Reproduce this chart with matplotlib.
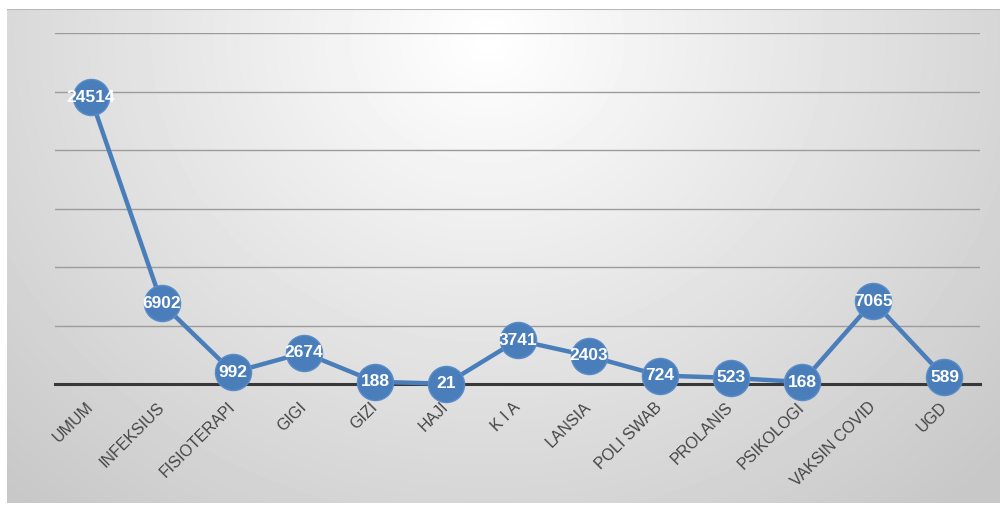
import numpy as np
import matplotlib.pyplot as plt

poli = ['UMUM', 'INFEKSIUS', 'FISIOTERAPI', 'GIGI', 'GIZI', 'HAJI', 'K I A',
        'LANSIA', 'POLI SWAB', 'PROLANIS', 'PSIKOLOGI', 'VAKSIN COVID', 'UGD']
kunjungan = [24514, 6902, 992, 2674, 188, 21, 3741, 2403, 724, 523, 168, 7065, 589]

W, H = 1000, 505
fig = plt.figure(figsize=(W / 100, H / 100), dpi=100)
fig.patch.set_facecolor('white')

# grey radial background of the chart box
bg = fig.add_axes([7 / W, 2 / H, 993 / W, (H - 9 - 2) / H])
gy, gx = np.mgrid[0:494, 0:993]
r = np.sqrt(((gx - 480) / 600.0) ** 2 + ((gy - 30) / 540.0) ** 2)
shade = np.clip(255 - 48 * r, 200, 255) / 255.0
bg.imshow(shade, cmap='gray', vmin=0, vmax=1, aspect='auto',
          extent=[0, 1, 0, 1], interpolation='bilinear')
bg.axhline(1, color='#b8b8b8', lw=1.5)
bg.set_xlim(0, 1)
bg.set_ylim(0, 1)
bg.axis('off')

ax = fig.add_axes([55 / W, (H - 384) / H, 925 / W, (384 - 33) / H])
ax.patch.set_alpha(0)

x = np.arange(len(poli))
ax.plot(x, kunjungan, color='#4a7ebb', lw=3.2, marker='o', markersize=26,
        markerfacecolor='#4a7ebb', markeredgecolor='#5a8cc8', markeredgewidth=1,
        clip_on=False, zorder=3)

for xi, v in zip(x, kunjungan):
    ax.text(xi, v, str(v), ha='center', va='center', color='white',
            fontsize=12.5, fontweight='bold', family=['Liberation Sans', 'DejaVu Sans'],
            zorder=4, clip_on=False)

ax.set_xlim(-0.5, len(poli) - 0.5)
ax.set_ylim(0, 30000)
ax.set_yticks(np.arange(5000, 30001, 5000))
ax.yaxis.grid(True, color='#9c9c9c', lw=1)
ax.set_axisbelow(True)
ax.axhline(0, color='#383838', lw=2.2, zorder=2, clip_on=False)

ax.set_xticks(x)
ax.set_xticklabels(poli, rotation=45, ha='right', va='center', rotation_mode='anchor',
                   fontsize=11.5, color='#454545', family=['Liberation Sans', 'DejaVu Sans'])
ax.tick_params(axis='x', length=0, pad=15)
ax.tick_params(axis='y', length=0, labelleft=False)
for s in ax.spines.values():
    s.set_visible(False)

fig.savefig('out.png', dpi=100)
